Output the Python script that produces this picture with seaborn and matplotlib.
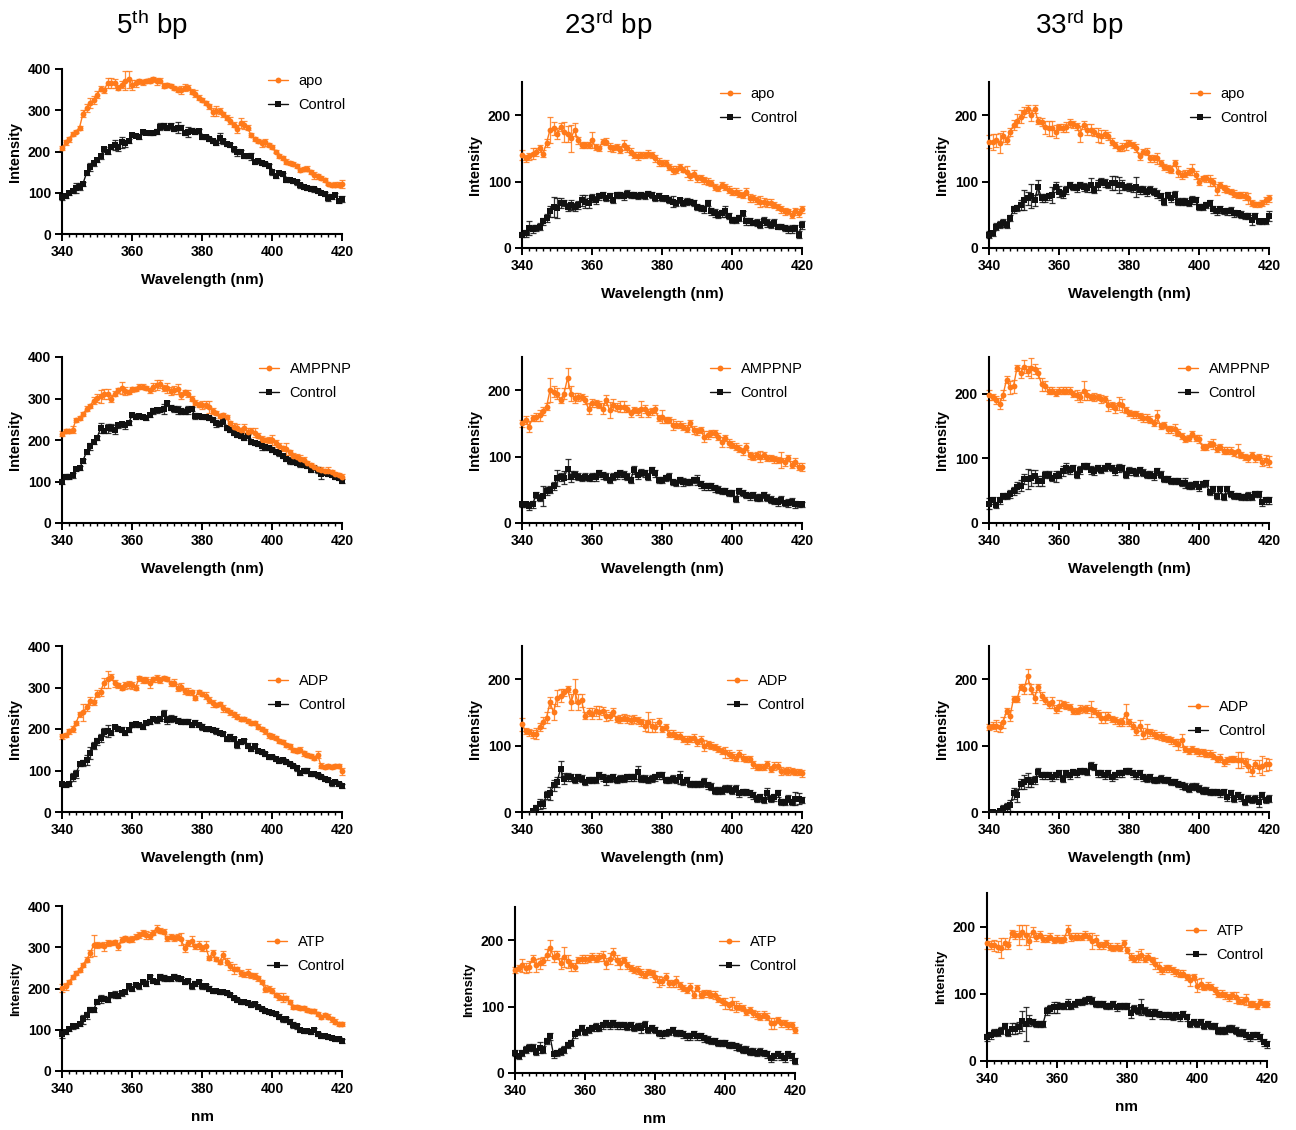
import numpy as np
import pandas as pd
import seaborn as sns
import matplotlib.pyplot as plt
from matplotlib.ticker import MultipleLocator
from matplotlib.patches import Rectangle

# Wavelength axis (nm), one reading per nm
wavelength = list(range(340, 421))

# ---------------- 5th bp ----------------
apo_5 = [208, 222, 230, 243, 248, 258, 292, 305, 318, 325,
         338, 352, 348, 366, 365, 365, 355, 362, 372, 375,
         362, 365, 370, 368, 370, 372, 375, 370, 372, 360,
         362, 360, 355, 350, 350, 355, 355, 345, 340, 330,
         325, 318, 310, 295, 298, 298, 290, 282, 275, 265,
         255, 268, 265, 258, 240, 230, 225, 220, 222, 215,
         210, 200, 190, 185, 175, 172, 170, 165, 155, 158,
         158, 150, 142, 140, 135, 130, 122, 118, 120, 120,
         122]
apo_5_err = [5, 6, 6, 5, 4, 5, 8, 10, 12, 10,
             8, 6, 5, 12, 12, 10, 6, 8, 22, 20,
             12, 8, 6, 6, 5, 5, 6, 8, 6, 5,
             5, 4, 5, 6, 10, 8, 6, 6, 8, 6,
             5, 5, 6, 10, 12, 8, 6, 6, 8, 6,
             10, 12, 10, 6, 6, 5, 5, 8, 8, 5,
             5, 4, 5, 5, 6, 5, 5, 4, 5, 5,
             6, 5, 8, 6, 5, 5, 4, 4, 5, 5,
             10]
ctrl_apo_5 = [90, 92, 100, 105, 112, 115, 122, 148, 162, 172,
              180, 188, 205, 200, 210, 215, 210, 222, 220, 225,
              240, 238, 235, 248, 246, 245, 245, 248, 260, 262,
              258, 262, 255, 258, 258, 245, 248, 250, 248, 250,
              235, 235, 230, 225, 220, 232, 225, 218, 215, 205,
              198, 198, 190, 190, 188, 175, 178, 172, 170, 165,
              150, 140, 148, 145, 132, 130, 128, 125, 118, 115,
              112, 110, 108, 105, 100, 98, 88, 90, 95, 80,
              85]
ctrl_apo_5_err = [8, 5, 5, 5, 12, 8, 5, 5, 10, 6,
                  5, 6, 5, 5, 5, 12, 8, 14, 8, 5,
                  5, 4, 5, 5, 4, 5, 5, 6, 8, 8,
                  6, 8, 6, 14, 6, 5, 12, 6, 5, 5,
                  5, 4, 5, 5, 5, 12, 6, 5, 5, 6,
                  8, 5, 5, 5, 8, 5, 5, 5, 4, 5,
                  6, 5, 5, 4, 5, 4, 4, 5, 6, 5,
                  5, 6, 5, 5, 4, 5, 8, 5, 4, 6,
                  8]

amppnp_5 = [215, 222, 222, 225, 248, 252, 262, 275, 282, 295,
            302, 305, 310, 312, 300, 312, 320, 325, 318, 315,
            322, 322, 328, 328, 325, 320, 328, 332, 335, 325,
            325, 318, 320, 322, 308, 315, 312, 300, 290, 285,
            285, 285, 280, 270, 265, 258, 260, 255, 240, 232,
            230, 225, 228, 220, 222, 218, 210, 202, 200, 200,
            200, 192, 185, 180, 178, 170, 162, 158, 155, 152,
            145, 140, 135, 130, 128, 125, 125, 122, 118, 115,
            112]
amppnp_5_err = [6, 5, 5, 8, 5, 5, 5, 6, 5, 8,
                10, 15, 12, 12, 8, 5, 6, 15, 10, 5,
                6, 5, 6, 6, 5, 6, 10, 12, 10, 8,
                12, 10, 10, 12, 8, 6, 8, 5, 6, 6,
                10, 8, 15, 8, 5, 5, 5, 5, 6, 8,
                8, 5, 10, 8, 6, 10, 6, 8, 6, 8,
                12, 8, 8, 6, 15, 5, 6, 8, 8, 6,
                5, 5, 5, 5, 8, 5, 10, 5, 5, 6,
                6]
ctrl_amppnp_5 = [100, 112, 112, 115, 130, 132, 150, 172, 185, 195,
                 205, 228, 222, 228, 230, 225, 235, 238, 235, 240,
                 260, 255, 258, 255, 252, 260, 270, 272, 272, 275,
                 288, 278, 275, 272, 270, 268, 272, 275, 258, 258,
                 255, 255, 252, 248, 240, 238, 245, 228, 225, 218,
                 212, 210, 205, 210, 195, 192, 190, 185, 182, 180,
                 175, 172, 168, 162, 155, 150, 148, 145, 142, 140,
                 138, 128, 132, 128, 118, 120, 118, 115, 110, 108,
                 102]
ctrl_amppnp_5_err = [5, 5, 5, 6, 5, 5, 5, 5, 8, 5,
                     5, 12, 5, 10, 8, 10, 5, 6, 8, 5,
                     5, 5, 5, 5, 5, 5, 8, 6, 5, 12,
                     5, 6, 8, 10, 8, 6, 10, 5, 8, 5,
                     5, 5, 5, 5, 8, 5, 6, 5, 5, 5,
                     5, 5, 5, 5, 5, 5, 5, 10, 6, 5,
                     5, 5, 6, 5, 5, 8, 5, 5, 8, 5,
                     5, 5, 5, 8, 12, 5, 5, 5, 5, 5,
                     5]

adp_5 = [182, 185, 195, 200, 215, 235, 240, 252, 268, 265,
         285, 290, 312, 320, 325, 310, 305, 300, 305, 308,
         305, 300, 322, 318, 318, 310, 320, 322, 318, 322,
         320, 310, 312, 300, 302, 292, 290, 288, 275, 290,
         285, 280, 270, 262, 258, 260, 250, 245, 240, 235,
         230, 225, 225, 220, 215, 215, 205, 200, 195, 185,
         182, 178, 172, 168, 162, 158, 150, 148, 150, 142,
         138, 135, 130, 138, 112, 108, 110, 108, 110, 110,
         98]
adp_5_err = [5, 5, 6, 8, 5, 5, 20, 8, 10, 6,
             8, 10, 12, 20, 8, 8, 6, 6, 8, 8,
             8, 6, 6, 8, 8, 10, 6, 8, 8, 5,
             5, 6, 8, 8, 8, 8, 8, 6, 5, 5,
             5, 8, 8, 8, 5, 5, 8, 5, 6, 5,
             5, 5, 5, 5, 5, 5, 6, 6, 6, 6,
             5, 5, 5, 5, 5, 5, 5, 6, 6, 6,
             5, 5, 5, 8, 5, 5, 5, 5, 5, 5,
             8]
ctrl_adp_5 = [68, 65, 68, 85, 92, 115, 118, 125, 142, 160,
              170, 178, 192, 195, 190, 205, 200, 198, 190, 198,
              210, 212, 210, 205, 215, 218, 225, 222, 225, 235,
              222, 225, 225, 220, 218, 218, 218, 210, 215, 210,
              205, 200, 200, 198, 195, 190, 188, 175, 180, 175,
              162, 168, 172, 160, 152, 158, 148, 145, 140, 132,
              132, 128, 122, 125, 120, 115, 110, 105, 95, 100,
              100, 92, 92, 88, 85, 80, 78, 70, 72, 68,
              62]
ctrl_adp_5_err = [5, 5, 5, 10, 10, 5, 8, 12, 15, 8,
                  8, 10, 10, 15, 5, 5, 5, 6, 5, 5,
                  6, 6, 5, 5, 5, 5, 5, 8, 6, 10,
                  10, 8, 6, 6, 5, 6, 5, 5, 6, 5,
                  8, 6, 6, 5, 8, 5, 5, 5, 8, 5,
                  8, 5, 5, 6, 6, 5, 5, 5, 5, 5,
                  5, 5, 5, 5, 5, 5, 5, 5, 5, 5,
                  5, 5, 5, 5, 5, 5, 5, 8, 5, 5,
                  5]

atp_5 = [202, 205, 215, 228, 238, 245, 258, 270, 285, 305,
         305, 305, 302, 310, 310, 312, 302, 318, 322, 318,
         320, 325, 330, 335, 330, 328, 335, 345, 340, 338,
         322, 325, 322, 325, 320, 298, 310, 315, 302, 305,
         298, 302, 275, 285, 272, 265, 282, 265, 255, 248,
         248, 238, 235, 238, 232, 230, 225, 215, 200, 200,
         195, 185, 180, 178, 178, 168, 155, 155, 152, 152,
         148, 145, 145, 138, 130, 135, 132, 125, 120, 115,
         115]
atp_5_err = [10, 8, 5, 5, 5, 5, 5, 6, 8, 25,
             8, 5, 10, 8, 5, 6, 8, 6, 6, 6,
             8, 6, 8, 8, 10, 8, 6, 8, 6, 6,
             6, 6, 8, 8, 15, 10, 8, 12, 6, 10,
             8, 12, 5, 8, 5, 5, 10, 8, 10, 12,
             5, 8, 6, 10, 6, 8, 6, 5, 8, 6,
             6, 5, 8, 10, 5, 5, 5, 5, 5, 5,
             5, 5, 5, 5, 5, 5, 5, 5, 5, 5,
             5]
ctrl_atp_5 = [90, 95, 102, 108, 110, 115, 125, 135, 148, 148,
              168, 175, 175, 172, 185, 185, 182, 188, 192, 205,
              200, 208, 205, 215, 212, 228, 218, 215, 228, 225,
              222, 222, 228, 225, 222, 215, 218, 205, 212, 215,
              205, 205, 200, 195, 195, 192, 192, 190, 185, 178,
              172, 168, 168, 165, 160, 162, 155, 150, 145, 142,
              140, 138, 132, 125, 125, 120, 112, 108, 100, 98,
              98, 95, 100, 90, 85, 85, 82, 80, 78, 78,
              72]
ctrl_atp_5_err = [10, 5, 5, 5, 5, 5, 10, 8, 6, 5,
                  6, 10, 6, 5, 5, 8, 6, 5, 5, 5,
                  5, 5, 5, 5, 5, 5, 5, 5, 8, 8,
                  5, 5, 6, 6, 5, 5, 5, 5, 5, 5,
                  5, 5, 5, 5, 5, 5, 5, 5, 5, 5,
                  5, 5, 5, 5, 5, 5, 5, 5, 5, 5,
                  5, 5, 5, 5, 5, 5, 8, 5, 5, 5,
                  5, 5, 5, 5, 5, 5, 5, 5, 5, 5,
                  5]

# ---------------- 23rd bp ----------------
apo_23 = [140, 135, 138, 142, 145, 150, 142, 158, 178, 180,
          172, 182, 175, 172, 165, 178, 162, 155, 155, 155,
          162, 152, 150, 160, 160, 152, 150, 152, 148, 155,
          150, 145, 140, 138, 140, 140, 142, 140, 135, 130,
          128, 128, 122, 118, 118, 122, 118, 115, 108, 112,
          105, 105, 102, 100, 98, 92, 90, 95, 92, 88,
          85, 85, 82, 80, 85, 75, 75, 72, 70, 70,
          68, 68, 65, 62, 58, 55, 55, 50, 55, 52,
          58]
apo_23_err = [8, 5, 5, 8, 6, 5, 5, 6, 20, 10,
              8, 6, 15, 12, 20, 10, 5, 5, 5, 5,
              12, 5, 4, 4, 5, 6, 5, 5, 5, 8,
              5, 5, 5, 6, 5, 5, 5, 5, 5, 6,
              5, 5, 5, 6, 5, 4, 4, 8, 5, 5,
              5, 5, 5, 5, 5, 4, 4, 5, 5, 5,
              5, 5, 5, 5, 5, 6, 5, 5, 8, 6,
              6, 6, 5, 5, 5, 5, 4, 5, 5, 6,
              6]
ctrl_apo_23 = [20, 22, 30, 28, 30, 32, 40, 45, 55, 62,
               60, 68, 68, 62, 65, 62, 65, 72, 70, 68,
               75, 72, 78, 80, 75, 78, 72, 80, 80, 78,
               82, 80, 80, 78, 80, 78, 82, 80, 75, 78,
               75, 75, 72, 70, 68, 72, 68, 70, 70, 68,
               62, 60, 58, 68, 55, 52, 50, 52, 55, 48,
               42, 42, 45, 52, 40, 40, 38, 38, 35, 40,
               38, 35, 38, 32, 32, 30, 28, 28, 30, 20,
               35]
ctrl_apo_23_err = [4, 5, 10, 6, 4, 5, 5, 6, 8, 15,
                   15, 8, 5, 6, 8, 6, 6, 8, 10, 8,
                   6, 6, 5, 5, 4, 5, 4, 5, 5, 5,
                   5, 5, 4, 4, 5, 4, 4, 4, 4, 5,
                   4, 4, 4, 8, 5, 4, 5, 5, 4, 5,
                   5, 5, 5, 5, 5, 6, 5, 5, 8, 5,
                   5, 5, 4, 4, 5, 5, 4, 5, 5, 6,
                   6, 5, 5, 4, 4, 5, 5, 6, 4, 5,
                   6]

amppnp_23 = [150, 155, 145, 158, 160, 162, 168, 175, 200, 198,
             195, 185, 195, 218, 195, 188, 190, 190, 185, 172,
             180, 180, 178, 172, 185, 170, 178, 175, 175, 175,
             172, 165, 170, 168, 172, 172, 165, 168, 172, 158,
             160, 155, 155, 148, 148, 148, 145, 142, 150, 140,
             138, 140, 130, 132, 135, 135, 130, 122, 128, 120,
             118, 115, 112, 108, 115, 102, 100, 102, 100, 102,
             98, 98, 96, 95, 95, 92, 98, 88, 92, 85,
             85]
amppnp_23_err = [5, 6, 8, 5, 6, 8, 6, 5, 18, 8,
                 8, 5, 8, 15, 12, 8, 6, 5, 6, 8,
                 6, 5, 5, 8, 8, 12, 8, 6, 8, 8,
                 5, 5, 5, 5, 12, 6, 6, 5, 6, 5,
                 10, 5, 5, 8, 5, 5, 5, 5, 5, 6,
                 5, 5, 8, 6, 5, 5, 5, 8, 5, 6,
                 5, 5, 5, 5, 5, 5, 5, 5, 8, 5,
                 5, 5, 5, 5, 12, 6, 5, 5, 6, 5,
                 6]
ctrl_amppnp_23 = [28, 28, 25, 28, 42, 38, 40, 48, 50, 55,
                  68, 70, 68, 82, 70, 72, 70, 68, 70, 68,
                  70, 70, 75, 72, 70, 65, 70, 72, 75, 72,
                  70, 65, 80, 72, 76, 75, 70, 80, 75, 65,
                  65, 68, 70, 62, 60, 65, 62, 62, 62, 65,
                  65, 58, 55, 55, 55, 52, 50, 48, 48, 45,
                  45, 36, 48, 45, 42, 40, 42, 38, 38, 42,
                  38, 35, 33, 32, 35, 30, 30, 32, 28, 28,
                  28]
ctrl_amppnp_23_err = [4, 4, 6, 5, 5, 5, 15, 6, 5, 6,
                      12, 6, 10, 15, 8, 6, 5, 5, 5, 5,
                      6, 6, 5, 5, 5, 5, 5, 5, 5, 6,
                      5, 5, 6, 5, 5, 5, 5, 5, 5, 5,
                      5, 5, 5, 5, 5, 5, 6, 5, 5, 5,
                      8, 5, 5, 5, 5, 5, 5, 5, 5, 5,
                      5, 5, 5, 5, 5, 5, 5, 5, 5, 5,
                      5, 5, 5, 6, 5, 5, 6, 5, 5, 4,
                      4]

adp_23 = [132, 122, 120, 118, 118, 128, 135, 142, 165, 150,
          172, 175, 180, 185, 165, 182, 165, 168, 145, 150,
          148, 152, 150, 152, 145, 145, 150, 140, 140, 142,
          140, 138, 140, 138, 135, 130, 135, 130, 128, 135,
          125, 128, 118, 118, 115, 115, 110, 108, 110, 112,
          105, 108, 100, 102, 100, 98, 95, 92, 90, 88,
          85, 82, 88, 82, 80, 80, 72, 68, 68, 68,
          72, 65, 70, 70, 62, 62, 62, 62, 60, 60,
          58]
adp_23_err = [10, 5, 5, 6, 8, 6, 8, 8, 8, 12,
              12, 10, 5, 5, 12, 18, 12, 10, 5, 6,
              8, 8, 10, 6, 8, 6, 6, 5, 6, 5,
              6, 6, 6, 5, 5, 8, 15, 10, 8, 6,
              5, 5, 5, 5, 5, 5, 5, 6, 5, 6,
              5, 6, 8, 5, 5, 5, 5, 5, 8, 6,
              6, 5, 5, 5, 5, 5, 5, 5, 5, 5,
              5, 5, 6, 5, 6, 5, 6, 5, 5, 5,
              5]
ctrl_adp_23 = [-10, -8, -4, 2, 6, 12, 12, 25, 28, 40,
               45, 65, 50, 52, 52, 48, 52, 50, 45, 48,
               48, 48, 55, 52, 48, 50, 52, 48, 50, 50,
               52, 52, 52, 60, 50, 50, 48, 50, 52, 55,
               55, 48, 48, 50, 48, 52, 45, 48, 42, 42,
               42, 42, 45, 40, 38, 32, 32, 32, 35, 35,
               32, 35, 28, 30, 30, 28, 25, 20, 22, 18,
               28, 20, 22, 28, 15, 15, 20, 15, 20, 20,
               18]
ctrl_adp_23_err = [3, 3, 3, 3, 5, 8, 6, 6, 10, 8,
                   8, 12, 8, 6, 5, 5, 5, 5, 5, 5,
                   5, 5, 5, 5, 8, 5, 5, 5, 5, 5,
                   5, 5, 5, 10, 5, 5, 5, 5, 5, 5,
                   5, 5, 5, 5, 5, 10, 5, 5, 5, 5,
                   5, 5, 6, 5, 5, 5, 5, 5, 5, 5,
                   5, 5, 5, 5, 5, 5, 5, 5, 5, 5,
                   8, 5, 5, 5, 5, 5, 5, 5, 10, 8,
                   5]

atp_23 = [155, 158, 162, 158, 160, 172, 162, 165, 168, 178,
          188, 175, 178, 165, 175, 168, 162, 160, 170, 172,
          172, 172, 175, 172, 175, 176, 165, 172, 180, 170,
          165, 170, 162, 158, 155, 155, 150, 148, 152, 150,
          145, 138, 138, 145, 135, 135, 138, 132, 128, 125,
          130, 118, 128, 118, 120, 120, 118, 118, 112, 108,
          105, 102, 105, 100, 100, 98, 92, 95, 90, 88,
          85, 88, 85, 75, 75, 80, 75, 75, 72, 72,
          65]
atp_23_err = [5, 5, 10, 8, 8, 5, 10, 8, 6, 8,
              12, 8, 6, 8, 15, 10, 8, 6, 5, 6,
              6, 5, 5, 5, 6, 8, 8, 8, 8, 8,
              8, 5, 5, 5, 5, 6, 6, 5, 5, 5,
              8, 8, 6, 5, 5, 5, 8, 5, 5, 5,
              5, 5, 5, 5, 5, 5, 5, 6, 5, 5,
              8, 5, 10, 8, 5, 5, 5, 5, 5, 6,
              5, 5, 5, 8, 8, 5, 5, 5, 5, 5,
              5]
ctrl_atp_23 = [30, 25, 30, 35, 38, 38, 32, 38, 35, 48,
               55, 28, 30, 32, 35, 42, 45, 58, 62, 68,
               62, 65, 68, 70, 68, 72, 75, 72, 75, 72,
               72, 72, 70, 72, 68, 70, 68, 72, 65, 68,
               65, 60, 58, 60, 62, 65, 60, 60, 58, 55,
               55, 58, 55, 55, 52, 50, 48, 48, 45, 45,
               45, 42, 42, 40, 38, 35, 35, 32, 32, 30,
               32, 30, 28, 22, 25, 28, 25, 22, 28, 25,
               18]
ctrl_atp_23_err = [5, 4, 5, 5, 5, 5, 5, 8, 5, 5,
                   5, 5, 5, 5, 5, 5, 5, 6, 5, 5,
                   5, 5, 5, 6, 5, 5, 5, 5, 5, 5,
                   5, 5, 5, 5, 5, 5, 8, 6, 5, 5,
                   5, 5, 5, 5, 5, 5, 5, 5, 5, 5,
                   5, 5, 5, 5, 5, 5, 5, 5, 5, 5,
                   5, 5, 5, 5, 5, 5, 5, 5, 5, 5,
                   5, 5, 5, 5, 5, 5, 5, 5, 5, 5,
                   5]

# ---------------- 33rd bp ----------------
apo_33 = [160, 160, 162, 158, 168, 162, 175, 185, 192, 198,
          205, 210, 200, 210, 192, 190, 182, 180, 180, 175,
          182, 180, 182, 188, 186, 183, 172, 185, 178, 178,
          175, 170, 168, 172, 168, 160, 155, 150, 152, 155,
          158, 155, 150, 138, 145, 145, 135, 135, 135, 128,
          122, 120, 118, 128, 115, 110, 112, 115, 118, 110,
          100, 105, 105, 102, 100, 88, 95, 90, 88, 85,
          82, 80, 80, 78, 75, 68, 66, 66, 68, 72,
          75]
apo_33_err = [10, 12, 10, 15, 8, 5, 6, 8, 10, 10,
              8, 6, 8, 6, 5, 6, 10, 12, 12, 10,
              5, 6, 8, 6, 5, 6, 12, 6, 8, 8,
              6, 10, 10, 6, 6, 5, 5, 4, 6, 8,
              5, 5, 6, 5, 4, 5, 5, 5, 8, 5,
              5, 5, 5, 4, 8, 6, 5, 5, 8, 6,
              5, 4, 5, 8, 6, 8, 5, 5, 5, 4,
              5, 5, 5, 6, 8, 5, 4, 4, 5, 5,
              5]
ctrl_apo_33 = [20, 22, 32, 35, 38, 35, 45, 58, 60, 65,
               72, 75, 78, 72, 92, 75, 75, 78, 80, 92,
               85, 82, 88, 95, 92, 90, 95, 92, 90, 95,
               88, 95, 100, 98, 95, 98, 98, 95, 95, 92,
               92, 90, 92, 88, 88, 85, 88, 85, 82, 78,
               70, 80, 75, 80, 70, 70, 70, 68, 72, 72,
               62, 62, 65, 68, 58, 55, 58, 55, 55, 55,
               52, 52, 50, 48, 48, 42, 48, 40, 40, 40,
               48]
ctrl_apo_33_err = [5, 4, 5, 5, 6, 5, 5, 5, 5, 8,
                   15, 10, 18, 8, 10, 6, 6, 5, 12, 8,
                   8, 6, 6, 5, 5, 6, 5, 6, 6, 10,
                   5, 8, 5, 6, 5, 10, 10, 12, 8, 5,
                   6, 5, 15, 6, 6, 6, 5, 5, 6, 5,
                   5, 5, 5, 6, 5, 5, 5, 5, 6, 5,
                   5, 5, 5, 4, 5, 5, 5, 4, 5, 6,
                   5, 4, 5, 5, 5, 8, 5, 4, 4, 4,
                   8]

amppnp_33 = [198, 195, 190, 185, 198, 222, 210, 212, 240, 232,
             242, 235, 240, 238, 232, 215, 212, 205, 205, 202,
             205, 205, 205, 205, 200, 198, 195, 205, 198, 195,
             195, 195, 192, 192, 182, 182, 178, 185, 182, 175,
             170, 168, 168, 165, 162, 162, 160, 155, 165, 150,
             152, 145, 145, 145, 140, 135, 130, 132, 138, 132,
             130, 118, 118, 122, 122, 115, 118, 112, 112, 112,
             108, 112, 105, 102, 100, 105, 100, 102, 95, 98,
             95]
amppnp_33_err = [8, 5, 6, 8, 8, 6, 10, 10, 5, 8,
                 10, 8, 15, 8, 8, 10, 8, 5, 5, 6,
                 5, 5, 5, 5, 5, 8, 8, 15, 8, 5,
                 6, 5, 6, 5, 8, 6, 8, 10, 10, 5,
                 5, 6, 5, 5, 6, 6, 5, 5, 10, 5,
                 5, 5, 5, 8, 5, 5, 5, 5, 5, 5,
                 6, 5, 5, 5, 8, 5, 5, 5, 5, 5,
                 5, 10, 5, 5, 5, 5, 5, 5, 6, 8,
                 8]
ctrl_amppnp_33 = [30, 35, 28, 35, 42, 42, 45, 50, 55, 58,
                  68, 68, 70, 72, 65, 65, 75, 75, 70, 72,
                  75, 80, 85, 82, 85, 75, 82, 88, 88, 82,
                  80, 85, 82, 85, 88, 85, 80, 85, 85, 75,
                  80, 80, 78, 82, 78, 75, 75, 72, 80, 75,
                  68, 68, 65, 65, 65, 62, 62, 58, 58, 60,
                  55, 60, 62, 48, 52, 42, 52, 40, 52, 45,
                  42, 42, 40, 40, 42, 40, 45, 45, 32, 35,
                  35]
ctrl_amppnp_33_err = [8, 5, 5, 5, 5, 5, 6, 6, 8, 8,
                      8, 15, 12, 10, 8, 8, 5, 5, 5, 8,
                      6, 8, 8, 6, 5, 5, 6, 5, 5, 6,
                      6, 5, 5, 5, 5, 5, 6, 6, 5, 5,
                      6, 5, 5, 5, 5, 5, 5, 5, 5, 5,
                      5, 5, 5, 5, 5, 5, 8, 5, 5, 5,
                      5, 5, 5, 5, 5, 5, 5, 5, 5, 5,
                      5, 5, 5, 5, 6, 5, 5, 5, 5, 5,
                      5]

adp_33 = [128, 130, 130, 128, 135, 152, 145, 170, 170, 188,
          185, 205, 185, 172, 188, 175, 168, 162, 165, 155,
          160, 162, 160, 158, 152, 152, 155, 155, 155, 155,
          152, 148, 142, 142, 145, 140, 138, 135, 135, 148,
          135, 130, 122, 130, 118, 122, 120, 118, 115, 115,
          112, 110, 108, 105, 102, 108, 95, 92, 95, 92,
          90, 90, 88, 88, 85, 80, 82, 75, 78, 80,
          80, 78, 78, 75, 70, 62, 72, 68, 70, 72,
          72]
adp_33_err = [5, 5, 8, 8, 8, 5, 8, 5, 5, 5,
              8, 10, 8, 8, 5, 6, 5, 5, 8, 6,
              8, 5, 5, 5, 5, 5, 6, 5, 6, 12,
              5, 5, 8, 8, 6, 5, 5, 5, 6, 15,
              5, 5, 6, 8, 8, 10, 5, 6, 5, 6,
              5, 5, 5, 5, 8, 10, 5, 5, 5, 5,
              5, 5, 5, 5, 5, 5, 6, 5, 5, 5,
              5, 12, 12, 6, 10, 8, 6, 10, 15, 10,
              8]
ctrl_adp_33 = [-3, 0, -2, 2, 5, 8, 10, 28, 25, 42,
               45, 48, 45, 48, 60, 55, 55, 55, 52, 55,
               58, 50, 58, 55, 60, 58, 62, 62, 60, 70,
               68, 58, 58, 55, 58, 52, 55, 58, 58, 62,
               62, 58, 55, 58, 52, 50, 52, 48, 48, 50,
               48, 48, 45, 45, 42, 40, 38, 35, 38, 38,
               35, 32, 32, 30, 30, 30, 28, 30, 22, 28,
               20, 25, 22, 15, 20, 18, 20, 15, 25, 18,
               20]
ctrl_adp_33_err = [3, 3, 3, 3, 5, 6, 8, 8, 10, 8,
                   10, 10, 8, 6, 6, 5, 5, 5, 5, 5,
                   5, 5, 6, 5, 5, 5, 5, 5, 5, 5,
                   5, 5, 5, 5, 5, 5, 5, 5, 5, 5,
                   5, 5, 5, 5, 5, 5, 5, 5, 5, 5,
                   5, 5, 5, 5, 5, 5, 5, 5, 5, 5,
                   5, 5, 5, 5, 5, 5, 5, 5, 5, 5,
                   5, 5, 5, 5, 5, 5, 5, 8, 5, 5,
                   5]

atp_33 = [175, 172, 172, 170, 168, 175, 172, 190, 188, 188,
          192, 188, 178, 192, 185, 188, 182, 182, 185, 180,
          182, 180, 182, 195, 185, 185, 185, 185, 188, 185,
          178, 180, 172, 172, 175, 170, 168, 170, 168, 175,
          165, 155, 152, 155, 158, 152, 155, 150, 145, 140,
          135, 138, 138, 135, 132, 130, 130, 125, 120, 125,
          112, 115, 110, 112, 110, 105, 100, 100, 98, 95,
          98, 95, 90, 90, 92, 85, 85, 82, 88, 85,
          85]
atp_33_err = [8, 6, 8, 8, 15, 8, 5, 5, 6, 15,
              10, 15, 12, 8, 6, 5, 5, 5, 5, 5,
              5, 5, 5, 8, 6, 5, 5, 5, 5, 5,
              12, 8, 5, 5, 5, 5, 5, 5, 5, 5,
              5, 5, 5, 8, 8, 5, 5, 5, 8, 8,
              5, 5, 5, 5, 5, 5, 5, 5, 8, 5,
              10, 8, 5, 5, 5, 5, 5, 5, 5, 5,
              5, 8, 5, 5, 8, 5, 5, 5, 5, 5,
              5]
ctrl_atp_33 = [35, 38, 42, 42, 45, 52, 42, 48, 48, 50,
               60, 55, 60, 58, 55, 55, 55, 75, 78, 80,
               80, 82, 82, 85, 82, 85, 88, 88, 90, 92,
               90, 85, 85, 85, 82, 82, 85, 80, 82, 82,
               82, 72, 78, 75, 80, 75, 72, 70, 72, 70,
               68, 68, 68, 66, 68, 65, 70, 65, 55, 58,
               55, 58, 52, 55, 52, 52, 45, 45, 45, 48,
               48, 45, 42, 42, 38, 35, 38, 38, 35, 28,
               25]
ctrl_atp_33_err = [5, 5, 5, 5, 5, 5, 5, 8, 8, 8,
                   15, 25, 8, 5, 5, 5, 5, 6, 6, 8,
                   8, 5, 5, 8, 5, 5, 5, 5, 5, 5,
                   5, 5, 5, 5, 5, 5, 5, 5, 5, 5,
                   5, 8, 5, 5, 12, 5, 5, 8, 5, 5,
                   5, 5, 5, 5, 5, 5, 5, 5, 5, 5,
                   5, 5, 5, 5, 5, 5, 5, 5, 5, 5,
                   5, 5, 5, 5, 5, 5, 5, 5, 5, 5,
                   5]

column_titles = ["5$^{th}$ bp", "23$^{rd}$ bp", "33$^{rd}$ bp"]

# ---------------- style ----------------
sns.set_style("ticks")
plt.rcParams['font.family'] = ['Liberation Sans', 'DejaVu Sans']
plt.rcParams['mathtext.default'] = 'regular'
for key in ('text.color', 'axes.labelcolor', 'xtick.color', 'ytick.color'):
    plt.rcParams[key] = 'black'

orange = '#FF7A1A'
black = '#111111'

W, H = 1296, 1130
fig = plt.figure(figsize=(W / 100, H / 100), dpi=100)


def px_rect(l, t, r, b):
    return [l / W, 1 - b / H, (r - l) / W, (b - t) / H]


# (name, treat, treat_err, ctrl, ctrl_err, ymax, axes px rect, legend px pos, row)
panels = [
    ("apo", apo_5, apo_5_err, ctrl_apo_5, ctrl_apo_5_err, 400, (62, 69, 342, 234), (268, 82), 0),
    ("apo", apo_23, apo_23_err, ctrl_apo_23, ctrl_apo_23_err, 250, (522, 82, 802, 248), (720, 95), 0),
    ("apo", apo_33, apo_33_err, ctrl_apo_33, ctrl_apo_33_err, 250, (989, 82, 1269, 248), (1190, 95), 0),
    ("AMPPNP", amppnp_5, amppnp_5_err, ctrl_amppnp_5, ctrl_amppnp_5_err, 400, (62, 357, 342, 523), (259, 370), 1),
    ("AMPPNP", amppnp_23, amppnp_23_err, ctrl_amppnp_23, ctrl_amppnp_23_err, 250, (522, 357, 802, 523), (710, 370), 1),
    ("AMPPNP", amppnp_33, amppnp_33_err, ctrl_amppnp_33, ctrl_amppnp_33_err, 257, (989, 357, 1269, 523), (1178, 370), 1),
    ("ADP", adp_5, adp_5_err, ctrl_adp_5, ctrl_adp_5_err, 400, (62, 646, 342, 812), (268, 682), 2),
    ("ADP", adp_23, adp_23_err, ctrl_adp_23, ctrl_adp_23_err, 250, (522, 646, 802, 812), (727, 682), 2),
    ("ADP", adp_33, adp_33_err, ctrl_adp_33, ctrl_adp_33_err, 250, (989, 646, 1269, 812), (1188, 708), 2),
    ("ATP", atp_5, atp_5_err, ctrl_atp_5, ctrl_atp_5_err, 400, (62, 906, 342, 1071), (267, 943), 3),
    ("ATP", atp_23, atp_23_err, ctrl_atp_23, ctrl_atp_23_err, 250, (515, 907, 795, 1073), (719, 943), 3),
    ("ATP", atp_33, atp_33_err, ctrl_atp_33, ctrl_atp_33_err, 250, (987, 893, 1267, 1061), (1186, 932), 3),
]

for name, treat, treat_err, ctrl, ctrl_err, ymax, rect, leg, row in panels:
    ax = fig.add_axes(px_rect(*rect))
    df = pd.DataFrame({"nm": wavelength, "treat": treat, "ctrl": ctrl})

    series = [("Control", "ctrl", ctrl_err, black, "s"),
              (name, "treat", treat_err, orange, "o")]
    for label, col, err, color, marker in series:
        ax.errorbar(df["nm"], df[col], yerr=err, fmt="none", ecolor=color,
                    elinewidth=0.9, capsize=2.2, capthick=0.9, alpha=0.85, zorder=2)
        sns.lineplot(data=df, x="nm", y=col, ax=ax, color=color, marker=marker,
                     markersize=4.2 if marker == "o" else 3.8, markeredgewidth=0,
                     linewidth=1.0, label=label, errorbar=None, zorder=3)

    # clip marks to the data area but let the first/last markers show in full
    clip = Rectangle((-0.03, 0), 1.06, 1.1, transform=ax.transAxes, facecolor="none")
    for art in ax.lines + ax.collections:
        art.set_clip_path(clip)

    ax.set_xlim(340, 420)
    ax.set_ylim(0, ymax)
    ax.xaxis.set_major_locator(MultipleLocator(20))
    ax.xaxis.set_minor_locator(MultipleLocator(2))
    ax.yaxis.set_major_locator(MultipleLocator(100))
    sns.despine(ax=ax)
    for s in ("left", "bottom"):
        ax.spines[s].set_linewidth(1.5)
        ax.spines[s].set_color("black")
    ax.tick_params(which="major", direction="out", length=5, width=1.4, pad=3,
                   labelsize=10, color="black", labelcolor="black")
    ax.tick_params(which="minor", direction="out", length=2.5, width=1.0, color="black")
    for lab in ax.get_xticklabels() + ax.get_yticklabels():
        lab.set_fontweight("bold")

    xl = "nm" if row == 3 else "Wavelength (nm)"
    ax.set_xlabel(xl, fontsize=11, fontweight="bold", labelpad=10)
    ax.set_ylabel("Intensity", fontsize=9.5 if row == 3 else 10.5,
                  fontweight="bold", labelpad=4)

    handles, labels = ax.get_legend_handles_labels()
    ax.legend(handles[::-1], labels[::-1], loc="upper left",
              bbox_to_anchor=(leg[0] / W, 1 - (leg[1] - 8) / H),
              bbox_transform=fig.transFigure, frameon=False, fontsize=10.5,
              handlelength=1.4, handletextpad=0.7, labelspacing=0.7,
              borderpad=0, borderaxespad=0, labelcolor="black")

for x, title in zip([152, 608, 1079], column_titles):
    fig.text(x / W, 1 - 25 / H, title, ha="center", va="center", fontsize=20,
             color="black")

fig.savefig("out.png", dpi=100)
